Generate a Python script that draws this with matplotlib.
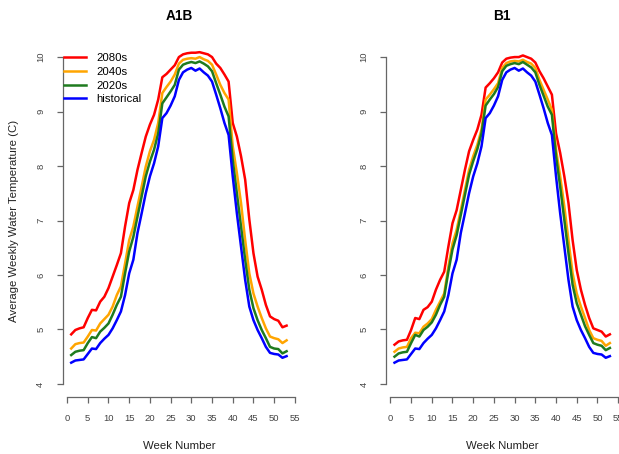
import matplotlib
matplotlib.use("Agg")
import matplotlib.pyplot as plt
import matplotlib.transforms as mtrans
import numpy as np

plt.rcParams["font.family"] = ["Liberation Sans", "DejaVu Sans"]

weeks = np.arange(1, 54)

historical = [4.39, 4.43, 4.44, 4.45, 4.55, 4.65, 4.64, 4.75, 4.83, 4.90,
              5.02, 5.17, 5.33, 5.63, 6.03, 6.28, 6.77, 7.13, 7.50, 7.81,
              8.05, 8.36, 8.88, 8.97, 9.11, 9.28, 9.58, 9.72, 9.77, 9.80,
              9.75, 9.79, 9.72, 9.66, 9.55, 9.31, 9.06, 8.79, 8.57, 7.81,
              7.13, 6.52, 5.91, 5.42, 5.17, 4.99, 4.84, 4.68, 4.57, 4.55,
              4.54, 4.48, 4.51]

a1b_2020s = [4.53, 4.59, 4.61, 4.62, 4.75, 4.86, 4.84, 4.96, 5.03, 5.11,
             5.27, 5.45, 5.60, 6.03, 6.43, 6.70, 7.07, 7.44, 7.81, 8.08,
             8.30, 8.60, 9.15, 9.26, 9.37, 9.49, 9.77, 9.86, 9.89, 9.91,
             9.89, 9.92, 9.88, 9.83, 9.74, 9.52, 9.31, 9.09, 8.91, 8.11,
             7.50, 6.89, 6.28, 5.73, 5.39, 5.17, 4.99, 4.84, 4.68, 4.65,
             4.64, 4.56, 4.60]

a1b_2040s = [4.65, 4.73, 4.75, 4.76, 4.87, 4.99, 4.98, 5.11, 5.19, 5.27,
             5.42, 5.63, 5.79, 6.21, 6.64, 6.89, 7.26, 7.62, 7.99, 8.27,
             8.48, 8.79, 9.34, 9.45, 9.55, 9.68, 9.88, 9.95, 9.97, 9.98,
             9.97, 10.00, 9.96, 9.93, 9.86, 9.68, 9.49, 9.34, 9.22, 8.36,
             7.87, 7.32, 6.64, 6.03, 5.66, 5.42, 5.21, 5.02, 4.87, 4.84,
             4.82, 4.75, 4.80]

a1b_2080s = [4.91, 4.99, 5.02, 5.04, 5.21, 5.36, 5.35, 5.51, 5.60, 5.76,
             5.97, 6.18, 6.40, 6.89, 7.32, 7.56, 7.93, 8.24, 8.54, 8.76,
             8.94, 9.22, 9.63, 9.69, 9.77, 9.85, 10.00, 10.05, 10.07, 10.08,
             10.08, 10.09, 10.07, 10.05, 10.00, 9.88, 9.80, 9.68, 9.55, 8.79,
             8.54, 8.18, 7.75, 7.02, 6.40, 5.97, 5.73, 5.45, 5.24, 5.19,
             5.16, 5.04, 5.07]

b1_2020s = [4.50, 4.56, 4.58, 4.59, 4.75, 4.90, 4.87, 4.99, 5.05, 5.13,
            5.27, 5.45, 5.60, 6.06, 6.47, 6.73, 7.10, 7.47, 7.84, 8.09,
            8.31, 8.60, 9.11, 9.22, 9.32, 9.45, 9.74, 9.84, 9.87, 9.89,
            9.87, 9.91, 9.86, 9.81, 9.72, 9.49, 9.29, 9.09, 8.94, 8.18,
            7.62, 7.01, 6.40, 5.82, 5.48, 5.27, 5.06, 4.90, 4.75, 4.72,
            4.70, 4.62, 4.66]

b1_2040s = [4.59, 4.65, 4.67, 4.68, 4.84, 4.94, 4.93, 5.05, 5.11, 5.19,
            5.36, 5.51, 5.66, 6.15, 6.58, 6.83, 7.19, 7.56, 7.93, 8.18,
            8.39, 8.67, 9.22, 9.31, 9.41, 9.52, 9.80, 9.89, 9.92, 9.93,
            9.92, 9.95, 9.91, 9.88, 9.80, 9.58, 9.40, 9.22, 9.03, 8.30,
            7.81, 7.26, 6.64, 6.03, 5.66, 5.42, 5.21, 4.99, 4.84, 4.81,
            4.79, 4.70, 4.75]

b1_2080s = [4.72, 4.78, 4.80, 4.81, 4.99, 5.21, 5.19, 5.36, 5.41, 5.51,
            5.73, 5.91, 6.06, 6.52, 6.95, 7.19, 7.56, 7.93, 8.27, 8.48,
            8.67, 8.94, 9.44, 9.52, 9.61, 9.72, 9.90, 9.97, 9.99, 10.00,
            10.00, 10.03, 10.00, 9.97, 9.90, 9.74, 9.61, 9.46, 9.31, 8.60,
            8.24, 7.81, 7.32, 6.64, 6.09, 5.73, 5.45, 5.21, 5.02, 4.99,
            4.96, 4.87, 4.91]

labels = ["2080s", "2040s", "2020s", "historical"]
colors = ["#ff0000", "#ffa500", "#1e7b1e", "#0000ff"]
xticks = list(range(0, 60, 5))
yticks = [4, 5, 6, 7, 8, 9, 10]

W, H = 619, 454
fig = plt.figure(figsize=(W / 100, H / 100), dpi=100)

panels = [
    ("A1B", [a1b_2080s, a1b_2040s, a1b_2020s, historical], 62.6),
    ("B1", [b1_2080s, b1_2040s, b1_2020s, historical], 385.9),
]

axis_col = "#666666"
for i, (title, series, left_px) in enumerate(panels):
    ax = fig.add_axes([left_px / W, (H - 397) / H, 232.6 / W, 353 / H])
    for s, c, lab in zip(series, colors, labels):
        ax.plot(weeks, s, color=c, lw=1.8, label=lab)
    # R-style 4% padding around the data range
    ax.set_xlim(1 - 0.04 * 52, 53 + 0.04 * 52)
    ax.set_ylim(4 - 0.04 * 6, 10 + 0.04 * 6)
    for sp in ("top", "right"):
        ax.spines[sp].set_visible(False)
    ax.spines["left"].set_bounds(4, 10)
    ax.spines["bottom"].set_bounds(0, 55)
    for sp in ("left", "bottom"):
        ax.spines[sp].set_color(axis_col)
        ax.spines[sp].set_linewidth(0.9)
    ax.set_xticks(xticks)
    ax.set_yticks(yticks)
    ax.tick_params(axis="both", direction="out", length=4.5, width=0.9,
                   color=axis_col, labelsize=6.8, labelcolor="#444444")
    ax.tick_params(axis="x", pad=8)
    ax.tick_params(axis="y", pad=8)
    for t in ax.get_yticklabels():
        t.set_rotation(90)
        t.set_va("center")

    # title in figure pixels, centred over the plot region
    fig.text((left_px + 232.6 / 2) / W, (H - 16) / H, title, fontsize=9.8,
             fontweight="bold", ha="center", va="center")

    ax.set_xlabel("Week Number", fontsize=8.2, color="#222222")
    ax.xaxis.set_label_coords(0.5, (H - 446) / H,
                              transform=mtrans.blended_transform_factory(ax.transAxes, fig.transFigure))
    ax.xaxis.label.set_va("center")

    if i == 0:
        ax.set_ylabel("Average Weekly Water Temperature (C)", fontsize=8.2,
                      color="#222222")
        ax.yaxis.set_label_coords(14 / W, 0.5,
                                  transform=mtrans.blended_transform_factory(fig.transFigure, ax.transAxes))
        ax.yaxis.label.set_va("center")
        ax.legend(loc="upper left", bbox_to_anchor=(64 / W, (H - 53) / H),
                  bbox_transform=fig.transFigure, frameon=False, fontsize=8.2,
                  borderaxespad=0, borderpad=0, handlelength=1.95,
                  handletextpad=0.9, labelspacing=0.33)

fig.savefig("out.png", dpi=100)
